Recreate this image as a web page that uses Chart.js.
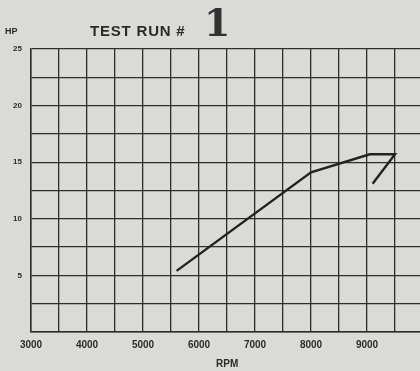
<!DOCTYPE html>
<html lang="en">
<head>
    <title>Test Run 1 - HP vs RPM</title>
    <script src="https://cdn.jsdelivr.net/npm/chart.js"></script>
    <style>
        html, body {
            margin: 0;
            padding: 0;
            background: #dadad7;
            overflow: hidden;
        }
        #wrap {
            position: relative;
            width: 420px;
            height: 371px;
            overflow: hidden;
        }
        #box {
            position: absolute;
            left: 0;
            top: 0;
            width: 432px;
            height: 371px;
        }
        .lbl {
            position: absolute;
            font-family: "Liberation Sans", Arial, sans-serif;
            font-weight: bold;
            color: #2b2b2b;
            white-space: nowrap;
        }
        #title { left: 90px; top: 22px; font-size: 15px; letter-spacing: 0.8px; }
        #runNo {
            left: 204px; top: 0px;
            font-family: "DejaVu Serif", "Liberation Serif", serif;
            font-size: 38px; font-weight: bold; color: #333;
        }
        #hp { left: 5px; top: 26px; font-size: 9px; }
        #rpm { left: 216px; top: 358px; font-size: 10px; }
    </style>
</head>
<body>
<div id="wrap">
    <div id="box"><canvas id="myChart"></canvas></div>
    <div class="lbl" id="title">TEST RUN #</div>
    <div class="lbl" id="runNo">1</div>
    <div class="lbl" id="hp">HP</div>
    <div class="lbl" id="rpm">RPM</div>
</div>
<script>
    // horsepower curve, plotted in the order it was traced
    var rpm = [5600, 8000, 9050, 9500, 9100];
    var hp = [5.4, 14.1, 15.7, 15.7, 13.1];

    var xLabels = [3000, 4000, 5000, 6000, 7000, 8000, 9000];
    var yLabels = [5, 10, 15, 20, 25];

    var points = [];
    for (var i = 0; i < rpm.length; i++) {
        points.push({ x: rpm[i], y: hp[i] });
    }

    var ink = '#2e2e2e';
    var tickFont = { family: '"Liberation Sans", Arial, sans-serif', size: 10, weight: 'bold' };

    var ctx = document.getElementById('myChart').getContext('2d');
    var myChart = new Chart(ctx, {
        type: 'scatter',
        data: {
            datasets: [{
                label: 'HP',
                data: points,
                showLine: true,
                borderColor: '#222',
                borderWidth: 2.4,
                pointRadius: 0,
                tension: 0
            }]
        },
        options: {
            responsive: true,
            maintainAspectRatio: false,
            animation: false,
            layout: { padding: { left: 0, right: 9, top: 49, bottom: 13 } },
            plugins: {
                legend: { display: false },
                tooltip: { enabled: false }
            },
            scales: {
                x: {
                    min: 3000,
                    max: 10000,
                    border: { color: ink, width: 1.5 },
                    grid: { color: ink, lineWidth: 1.3, drawTicks: false },
                    ticks: {
                        stepSize: 500,
                        padding: 7,
                        color: '#2b2b2b',
                        font: tickFont,
                        maxRotation: 0,
                        autoSkip: false,
                        callback: function (v) {
                            return xLabels.indexOf(v) >= 0 ? String(v) : '';
                        }
                    }
                },
                y: {
                    min: 0,
                    max: 25,
                    afterFit: function (s) { s.width = 31; },
                    border: { color: ink, width: 1.5 },
                    grid: { color: ink, lineWidth: 1.3, drawTicks: false },
                    ticks: {
                        stepSize: 2.5,
                        padding: 9,
                        color: '#2b2b2b',
                        font: { family: tickFont.family, size: 8, weight: 'bold' },
                        callback: function (v) {
                            return yLabels.indexOf(v) >= 0 ? String(v) : '';
                        }
                    }
                }
            }
        }
    });
</script>
</body>
</html>
